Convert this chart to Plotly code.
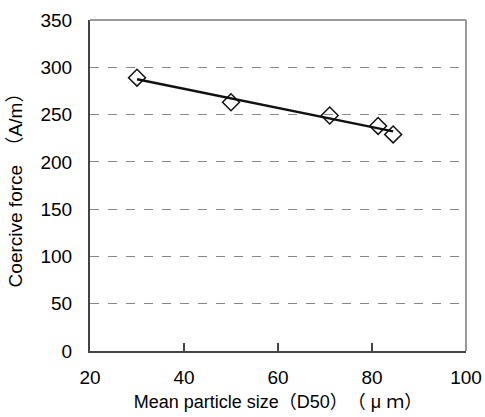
import numpy as np
import plotly.graph_objects as go

particle_size = [30, 50, 71, 81.3, 84.5]
coercive_force = [289, 263, 249, 238, 229]

x_ticks = [20, 40, 60, 80, 100]
y_ticks = [0, 50, 100, 150, 200, 250, 300, 350]

slope, intercept = np.polyfit(particle_size, coercive_force, 1)
fit_x = [min(particle_size), max(particle_size)]
fit_y = [slope * v + intercept for v in fit_x]

font_family = '"Liberation Sans", Arial, "Noto Sans CJK JP", sans-serif'

fig = go.Figure()
fig.add_trace(go.Scatter(x=fit_x, y=fit_y, mode="lines",
                         line=dict(color="#111111", width=2.5), showlegend=False))
fig.add_trace(go.Scatter(x=particle_size, y=coercive_force, mode="markers",
                         marker=dict(symbol="diamond-open", size=13,
                                     color="#111111", line=dict(width=1.5)),
                         showlegend=False))

fig.update_layout(
    width=485, height=417,
    margin=dict(l=90, r=19, t=20, b=66, autoexpand=False),
    paper_bgcolor="white", plot_bgcolor="white",
    font=dict(family=font_family, color="#000000"),
    xaxis=dict(range=[20, 100], tickvals=x_ticks, ticks="inside", ticklen=8,
               tickcolor="#444444", tickwidth=1.5, ticklabelstandoff=8,
               showline=True, linecolor="#444444", linewidth=2, showgrid=False,
               zeroline=False, tickfont=dict(size=19),
               title=dict(text="Mean particle size（D50）　（ μ ｍ）",
                          font=dict(size=18, family=font_family),
                          standoff=9)),
    yaxis=dict(range=[0, 350], tickvals=y_ticks, ticks="", showline=True,
               linecolor="#444444", linewidth=2, showgrid=True,
               gridcolor="#888888", griddash="dash", gridwidth=1.2,
               zeroline=False, tickfont=dict(size=19), ticklabelstandoff=12,
               title=dict(text="Coercive force　（A/m）",
                          font=dict(size=19, family=font_family),
                          standoff=13)),
)

fig.add_shape(type="line", xref="paper", yref="paper", x0=0, x1=1, y0=1, y1=1,
              line=dict(color="#999999", width=2))
fig.add_shape(type="line", xref="paper", yref="paper", x0=1, x1=1, y0=0, y1=1,
              line=dict(color="#999999", width=2))

fig.write_html("out.html")
